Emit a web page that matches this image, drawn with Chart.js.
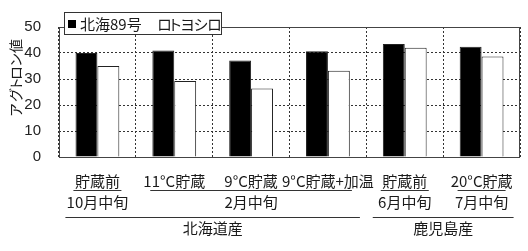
<!DOCTYPE html>
<html><head><meta charset="utf-8">
<script src="https://cdn.jsdelivr.net/npm/chart.js@4/dist/chart.umd.min.js"></script>
<style>html,body{margin:0;padding:0;background:#fff;}#wrap{width:528px;height:251px;}</style>
</head><body><div id="wrap"><canvas id="c" width="528" height="251"></canvas></div>
<script>
const categories = ['貯蔵前','11°C貯蔵','9°C貯蔵','9°C貯蔵+加温','貯蔵前','20°C貯蔵'];
const hokkai89 = [40.0, 41.0, 37.1, 40.7, 43.5, 42.4];
const rotoyoshiro = [35.0, 29.2, 26.3, 33.2, 42.0, 38.7];
const seriesNames = ['北海89号', 'ロトヨシロ'];
const yTickValues = [0, 10, 20, 30, 40, 50];
const yTitle = 'アグトロン値';
const periodLabels = ['10月中旬', '2月中旬', '6月中旬', '7月中旬'];
const periodSpans = [[0,0],[1,3],[4,4],[5,5]];
const originLabels = ['北海道産', '鹿児島産'];
const originSpans = [[0,3],[4,5]];

const JP = '"Noto Sans CJK JP", sans-serif';
const INK = '#1a1a1a';

// proportional (ink-width based) text drawing, emulating proportional kana
function propWidth(ctx, text, gap) {
  let w = 0;
  [...text].forEach((ch, i) => {
    const m = ctx.measureText(ch);
    w += m.actualBoundingBoxLeft + m.actualBoundingBoxRight + (i ? gap : 0);
  });
  return w;
}
function drawProp(ctx, text, x, y, gap) {
  ctx.textAlign = 'left';
  let cur = x;
  [...text].forEach(ch => {
    const m = ctx.measureText(ch);
    ctx.fillText(ch, cur + m.actualBoundingBoxLeft, y);
    cur += m.actualBoundingBoxLeft + m.actualBoundingBoxRight + gap;
  });
}

const decor = {
  id: 'decor',
  afterDatasetsDraw(chart) {
    const ctx = chart.ctx, a = chart.chartArea;
    ctx.save();
    ctx.strokeStyle = '#444'; ctx.lineWidth = 1; ctx.setLineDash([]);
    ctx.strokeRect(Math.round(a.left)+0.5, Math.round(a.top)+0.5, Math.round(a.right-a.left)-1, Math.round(a.bottom-a.top));
    ctx.restore();
  },
  afterDraw(chart) {
    const ctx = chart.ctx, x = chart.scales.x;
    const c = i => x.getPixelForValue(i);
    ctx.save();
    ctx.fillStyle = INK; ctx.strokeStyle = '#333'; ctx.lineWidth = 1;
    ctx.textAlign = 'center'; ctx.textBaseline = 'middle';
    ctx.font = '15px ' + JP;
    categories.forEach((t, i) => ctx.fillText(t, c(i), 181));
    periodSpans.forEach((s, k) => {
      const x1 = c(s[0]) - 24, x2 = c(s[1]) + 24;
      ctx.beginPath(); ctx.moveTo(x1, 190.5); ctx.lineTo(x2, 190.5); ctx.stroke();
      ctx.fillText(periodLabels[k], (x1 + x2) / 2, 202);
    });
    originSpans.forEach((s, k) => {
      const x1 = c(s[0]) - 32, x2 = c(s[1]) + 32;
      ctx.beginPath(); ctx.moveTo(x1, 217.5); ctx.lineTo(x2, 217.5); ctx.stroke();
      ctx.fillText(originLabels[k], (x1 + x2) / 2, 228);
    });
    // y title
    ctx.save();
    ctx.translate(16, 77.5); ctx.rotate(-Math.PI / 2);
    ctx.font = '14px ' + JP;
    const tw = propWidth(ctx, yTitle, 1);
    drawProp(ctx, yTitle, -tw / 2, 0, 1);
    ctx.restore();
    // legend
    ctx.fillStyle = '#fff'; ctx.fillRect(64, 12, 157, 22);
    ctx.strokeStyle = '#333'; ctx.strokeRect(64.5, 12.5, 157, 22);
    const ds = chart.data.datasets;
    ctx.fillStyle = ds[0].backgroundColor; ctx.fillRect(68, 20, 8, 8);
    ctx.fillStyle = INK; ctx.textAlign = 'left'; ctx.font = '15px ' + JP;
    ctx.fillText(ds[0].label, 80, 24);
    ctx.fillStyle = ds[1].backgroundColor; ctx.fillRect(148, 20, 8, 8);
    ctx.fillStyle = INK;
    drawProp(ctx, ds[1].label, 159, 24, 1.5);
    ctx.restore();
  }
};

new Chart(document.getElementById('c'), {
  type: 'bar',
  data: {
    labels: categories,
    datasets: [
      { label: seriesNames[0], data: hokkai89, backgroundColor: '#000', borderColor: '#222', borderWidth: 1 },
      { label: seriesNames[1], data: rotoyoshiro, backgroundColor: '#fff', borderColor: '#222', borderWidth: 1 }
    ]
  },
  options: {
    responsive: false, devicePixelRatio: 1, animation: false,
    layout: { padding: { top: 24, right: 8, bottom: 94, left: 0 } },
    datasets: { bar: { categoryPercentage: 0.57, barPercentage: 1 } },
    plugins: { legend: { display: false }, tooltip: { enabled: false } },
    scales: {
      x: {
        ticks: { display: false },
        grid: { offset: true, color: '#333', drawTicks: false, lineWidth: 1 },
        border: { display: false, dash: [2, 2] }
      },
      y: {
        min: 0, max: 50,
        afterBuildTicks: s => { s.ticks = yTickValues.map(v => ({ value: v })); },
        afterFit: s => { s.width = 59; },
        ticks: { padding: 18, color: '#222', font: { family: '"Liberation Sans Narrow", "Liberation Sans", sans-serif', size: 15 } },
        grid: { color: '#333', drawTicks: false, lineWidth: 1 },
        border: { display: false, dash: [2, 2] }
      }
    }
  },
  plugins: [decor]
});
</script></body></html>
